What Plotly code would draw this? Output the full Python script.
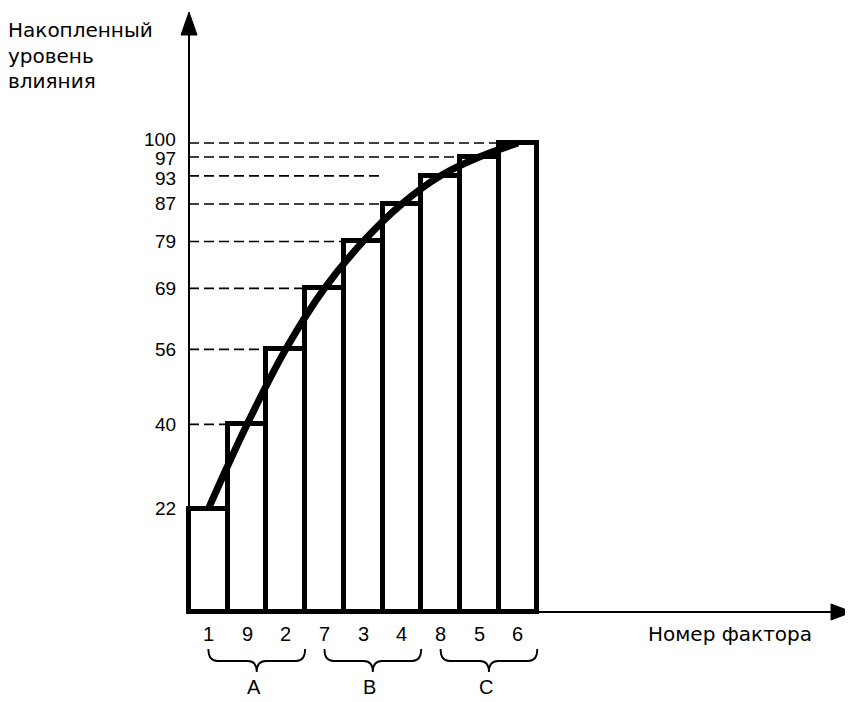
import plotly.graph_objects as go

# ---- data ----
factors = ["1", "9", "2", "7", "3", "4", "8", "5", "6"]
cumulative = [22, 40, 56, 69, 79, 87, 93, 97, 100]
tick_labels = ["22", "40", "56", "69", "79", "87", "93", "97", "100"]
tick_nudge = [0, 0, 0, 0, 0, 0, -3, -1, 4]      # px, to keep crowded labels apart
dash_to_bar = [None, 1, 2, 3, 4, 5, 5, 7, 8]   # bar index where each guide line stops
groups = ["A", "B", "C"]
group_size = 3
y_title = ["Накопленный", "уровень", "влияния"]
x_title = "Номер фактора"

OFF = 8                      # page body margin
W, H = 853 - OFF, 702 - OFF
NUM_FONT = "Liberation Sans, Arial, Helvetica, sans-serif"
TXT_FONT = "DejaVu Sans, Liberation Sans, sans-serif"

# pixel geometry (page pixels)
X0_PX, BAR_W_PX = 189, 38.7
BASE_PX, UNIT_PX = 612, 4.69
x_lo = -0.5 - (X0_PX - OFF) / BAR_W_PX
x_hi = x_lo + W / BAR_W_PX
y_lo = -(702 - BASE_PX) / UNIT_PX
y_hi = (BASE_PX - OFF) / UNIT_PX


def px_to_x(px):
    return x_lo + (px - OFF) / BAR_W_PX


def py_to_y(py):
    return (BASE_PX - py) / UNIT_PX


def paper_x(px):
    return (px - OFF) / W


def paper_y(py):
    return 1 - (py - OFF) / H


idx = list(range(len(factors)))

fig = go.Figure()
fig.add_trace(go.Bar(
    x=idx, y=cumulative, width=1,
    marker=dict(color="white", line=dict(color="black", width=5)),
    hoverinfo="skip",
))
fig.add_trace(go.Scatter(
    x=idx, y=cumulative, mode="lines",
    line=dict(color="black", width=7, shape="spline", smoothing=1.0),
    hoverinfo="skip",
))

shapes = []
# dashed guide lines
for i, v in enumerate(cumulative):
    if dash_to_bar[i] is None:
        continue
    shapes.append(dict(type="line", xref="x", yref="y",
                       x0=-0.5, x1=dash_to_bar[i] - 0.5, y0=v, y1=v,
                       line=dict(color="black", width=1.6, dash="10px,5px"),
                       layer="below"))
# y axis line + arrow
shapes.append(dict(type="line", xref="x", yref="y", x0=-0.5, x1=-0.5,
                   y0=0, y1=py_to_y(30), line=dict(color="black", width=2)))
ax = -0.5
shapes.append(dict(type="path", xref="x", yref="y",
                   path=f"M {ax - 8/BAR_W_PX},{py_to_y(35)} L {ax},{py_to_y(12)} "
                        f"L {ax + 8/BAR_W_PX},{py_to_y(35)} Z",
                   fillcolor="black", line=dict(color="black", width=1)))
# x axis line + arrow
shapes.append(dict(type="line", xref="x", yref="y", x0=-0.5, x1=px_to_x(836),
                   y0=0, y1=0, line=dict(color="black", width=2)))
shapes.append(dict(type="path", xref="x", yref="y",
                   path=f"M {px_to_x(831)},{py_to_y(BASE_PX - 8)} L {px_to_x(852)},0 "
                        f"L {px_to_x(831)},{py_to_y(BASE_PX + 8)} Z",
                   fillcolor="black", line=dict(color="black", width=1)))
# braces under groups
r = 9 / BAR_W_PX
y_top, y_mid, y_tip = py_to_y(649), py_to_y(661), py_to_y(672)
for g in range(len(groups)):
    a = g * group_size
    b = a + group_size - 1 + 0.5
    m = (a + b) / 2
    shapes.append(dict(type="path", xref="x", yref="y",
                       path=(f"M {a},{y_top} Q {a},{y_mid} {a + r},{y_mid} "
                             f"L {m - r},{y_mid} Q {m},{y_mid} {m},{y_tip} "
                             f"Q {m},{y_mid} {m + r},{y_mid} "
                             f"L {b - r},{y_mid} Q {b},{y_mid} {b},{y_top}"),
                       line=dict(color="black", width=1.8)))

ann = []
for v, t, n in zip(cumulative, tick_labels, tick_nudge):
    ann.append(dict(x=-0.5, y=v, xref="x", yref="y", text=t, showarrow=False,
                    xanchor="right", yanchor="middle", xshift=-11, yshift=n,
                    font=dict(size=19, color="black", family=NUM_FONT)))
for i, t in enumerate(factors):
    ann.append(dict(x=i, y=0, xref="x", yref="y", text=t, showarrow=False,
                    xanchor="center", yanchor="middle", yshift=-22,
                    font=dict(size=20, color="black", family=NUM_FONT)))
for g, t in enumerate(groups):
    a = g * group_size
    b = a + group_size - 1 + 0.5
    ann.append(dict(x=(a + b) / 2 - 0.08, y=0, xref="x", yref="y", text=t,
                    showarrow=False, xanchor="center", yanchor="middle", yshift=-75,
                    font=dict(size=20, color="black", family=NUM_FONT)))
for t, py in zip(y_title, [30, 56, 81]):
    ann.append(dict(x=paper_x(6), y=paper_y(py), xref="paper", yref="paper", text=t,
                    showarrow=False, xanchor="left", yanchor="middle",
                    font=dict(size=20, color="black", family=TXT_FONT)))
ann.append(dict(x=paper_x(646), y=paper_y(634), xref="paper", yref="paper", text=x_title,
                showarrow=False, xanchor="left", yanchor="middle",
                font=dict(size=20, color="black", family=TXT_FONT)))

fig.update_layout(
    width=W, height=H,
    margin=dict(l=0, r=0, t=0, b=0),
    paper_bgcolor="white", plot_bgcolor="white",
    showlegend=False,
    xaxis=dict(range=[x_lo, x_hi], visible=False, fixedrange=True),
    yaxis=dict(range=[y_lo, y_hi], visible=False, fixedrange=True),
    shapes=shapes, annotations=ann,
    bargap=0,
)

fig.write_html("out.html")
